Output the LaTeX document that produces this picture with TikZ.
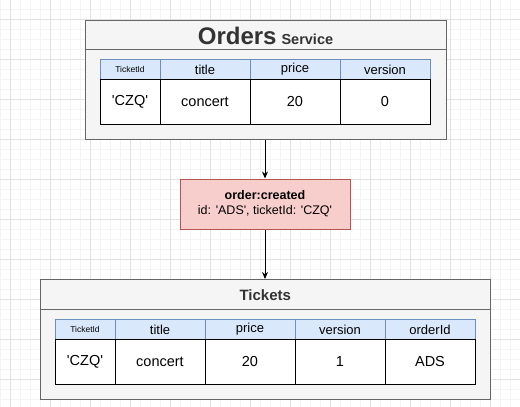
\documentclass[tikz,border=0pt]{standalone}
\usepackage{fontspec}
\setmainfont{Liberation Sans}[Ligatures=TeXOff]
\usetikzlibrary{positioning,arrows.meta}

\definecolor{boxfill}{HTML}{F5F5F5}
\definecolor{boxline}{HTML}{666666}
\definecolor{headfill}{HTML}{DAE8FC}
\definecolor{headline}{HTML}{6C8EBF}
\definecolor{eventfill}{HTML}{F8CECC}
\definecolor{eventline}{HTML}{B85450}
\definecolor{titletext}{HTML}{333333}
\definecolor{gridminor}{HTML}{F4F4F4}
\definecolor{gridmajor}{HTML}{E2E2E2}

\tikzset{
  service/.style={draw=boxline, fill=boxfill, line width=1pt, inner sep=0pt},
  headcell/.style={draw=headline, fill=headfill, line width=1pt, inner sep=0pt,
    minimum height=20, font=\fontsize{13}{15}\selectfont},
  bodycell/.style={draw=black, fill=white, line width=1pt, inner sep=0pt,
    minimum height=45, font=\fontsize{14.5}{16}\selectfont},
  event/.style={draw=eventline, fill=eventfill, line width=1pt, inner sep=0pt,
    align=center, font=\fontsize{12.5}{15}\selectfont},
  flow/.style={line width=1pt, -{Stealth[length=7pt,width=6pt]}}
}

\begin{document}
\begin{tikzpicture}[x=1pt, y=-1pt]
    \useasboundingbox (0,0) rectangle (520,407);
    % background grid
    \foreach \gx in {0,10,...,520} \draw [gridminor, line width=0.6pt] (\gx,0) -- (\gx,407);
    \foreach \gy in {9.5,19.5,...,407} \draw [gridminor, line width=0.6pt] (0,\gy) -- (520,\gy);
    \foreach \gx in {10,50,...,520} \draw [gridmajor, line width=0.8pt] (\gx,0) -- (\gx,407);
    \foreach \gy in {19.5,59.5,...,407} \draw [gridmajor, line width=0.8pt] (0,\gy) -- (520,\gy);

    % orders service
    \node [service, minimum width=361, minimum height=119] (orders) at (265.5,79.5) {};
    \draw [boxline, line width=1pt] (orders.west |- 0,49.5) -- (orders.east |- 0,49.5);
    \node [titletext, font=\bfseries] (orderstitle) at (265.5,35.5)
      {\fontsize{24}{26}\selectfont Orders\hspace{5pt}\fontsize{14.5}{16}\selectfont Service};
    \foreach \name/\xa/\xb/\head/\val in {oid/100/160/{\fontsize{8.5}{10}\selectfont TicketId}/'CZQ',
        otitle/160/250/title/concert, oprice/250/340/price/20, oversion/340/430/version/0} {
      \node [headcell, minimum width=\xb-\xa] (\name h) at ({(\xa+\xb)/2},69.5) {\head};
      \node [bodycell, minimum width=\xb-\xa] (\name b) at ({(\xa+\xb)/2},102) {\val};
    }

    % event
    \node [event, minimum width=170, minimum height=50] (created) at (265,204)
      {\textbf{order:created}\\id: 'ADS', ticketId: 'CZQ'};

    % tickets
    \node [service, minimum width=450, minimum height=119.5] (tickets) at (265.25,339.25) {};
    \draw [boxline, line width=1pt] (tickets.west |- 0,309.5) -- (tickets.east |- 0,309.5);
    \node [titletext, font=\bfseries\fontsize{15}{17}\selectfont] (ticketstitle) at (265.25,295) {Tickets};
    \foreach \name/\xa/\xb/\head/\val in {tid/55/115/{\fontsize{8.5}{10}\selectfont TicketId}/'CZQ',
        ttitle/115/205/title/concert, tprice/205/295/price/20, tversion/295/385/version/1,
        torder/385/475/orderId/ADS} {
      \node [headcell, minimum width=\xb-\xa] (\name h) at ({(\xa+\xb)/2},329.5) {\head};
      \node [bodycell, minimum width=\xb-\xa] (\name b) at ({(\xa+\xb)/2},362) {\val};
    }

    % flow
    \draw [flow] (orders.south -| created.north) -- (created.north);
    \draw [flow] (created.south) -- (created.south |- tickets.north);
\end{tikzpicture}
\end{document}
